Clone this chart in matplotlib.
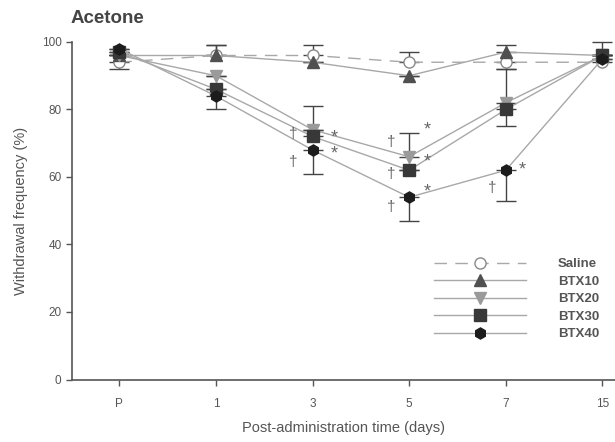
import matplotlib
matplotlib.use("Agg")
from matplotlib import pyplot as plt
import numpy as np

plt.rcParams['font.family'] = ['Liberation Sans', 'DejaVu Sans']

# data
days = ["P", "1", "3", "5", "7", "15"]
saline = [94, 96, 96, 94, 94, 94]
btx10 = [96, 96, 94, 90, 97, 96]
btx20 = [96, 90, 74, 66, 82, 96]
btx30 = [97, 86, 72, 62, 80, 96]
btx40 = [98, 84, 68, 54, 62, 95]

# one-sided error bars (lower, upper) as drawn
saline_err = [[2, 0, 0, 0, 2, 0], [0, 3, 3, 3, 0, 6]]
btx10_err = [[0, 0, 0, 0, 0, 0], [0, 3, 0, 0, 2, 0]]
btx20_err = [[0, 0, 0, 0, 0, 0], [0, 0, 0, 7, 10, 0]]
btx30_err = [[0, 0, 0, 0, 5, 0], [0, 0, 9, 0, 0, 0]]
btx40_err = [[0, 4, 7, 7, 9, 0], [0, 0, 0, 0, 0, 0]]

# significance marks: (x index offset, y value, symbol)
marks = [
    (2 - 0.2, 72.7, "†"), (2 + 0.22, 71.5, "*"),
    (2 - 0.2, 64.4, "†"), (2 + 0.22, 66.8, "*"),
    (3 - 0.19, 70.4, "†"), (3 + 0.19, 74.0, "*"),
    (3 - 0.19, 61.0, "†"), (3 + 0.19, 64.5, "*"),
    (3 - 0.19, 51.0, "†"), (3 + 0.19, 55.5, "*"),
    (4 - 0.14, 56.7, "†"), (4 + 0.17, 62.0, "*"),
]

x = np.arange(len(days))
txt = "#555555"
line_c = "#a8a8a8"

fig = plt.figure(figsize=(6.15, 4.42), dpi=100)
ax = fig.add_axes([0.117, 0.1414, 0.883, 0.7636])

series = [
    ("Saline", saline, saline_err, "o", "white", "#888888", (0, (9, 6))),
    ("BTX10", btx10, btx10_err, "^", "#505050", "#505050", "-"),
    ("BTX20", btx20, btx20_err, "v", "#9a9a9a", "#9a9a9a", "-"),
    ("BTX30", btx30, btx30_err, "s", "#383838", "#383838", "-"),
    ("BTX40", btx40, btx40_err, "h", "#1c1c1c", "#1c1c1c", "-"),
]

for name, vals, err, mk, fc, ec, ls in series:
    ax.errorbar(x, vals, yerr=err, fmt="none", ecolor="#444444", elinewidth=1.0,
                capsize=7.5, capthick=1.0, clip_on=False, zorder=2)
    ax.plot(x, vals, color=line_c, lw=1.0, ls=ls, marker=mk, ms=8,
            mfc=fc, mec=ec, mew=1.0, label=name, clip_on=False, zorder=3)

for mx, my, s in marks:
    ax.text(mx, my, s, ha="center", va="center", color="#666666",
            fontsize=13 if s == "*" else 11)

ax.set_xlim(-0.49, 5.13)
ax.set_ylim(0, 100)
ax.set_xticks(x)
ax.set_xticklabels(days)
ax.set_yticks([0, 20, 40, 60, 80, 100])
for side in ["top", "right"]:
    ax.spines[side].set_visible(False)
for side in ["left", "bottom"]:
    ax.spines[side].set_color("#555555")
    ax.spines[side].set_linewidth(1.2)
ax.tick_params(axis="both", direction="out", length=4, width=1, colors="#555555",
               labelcolor=txt, labelsize=8.5)
ax.tick_params(axis="x", pad=9)

ax.set_xlabel("Post-administration time (days)", fontsize=10.5, color=txt, labelpad=8)
ax.set_ylabel("Withdrawal frequency (%)", fontsize=10.5, color=txt, labelpad=10)
fig.text(0.114, 0.958, "Acetone", fontsize=13.5, fontweight="bold", color="#444444",
         ha="left", va="center")

leg = ax.legend(loc="upper left", bbox_to_anchor=(0.645, 0.395), frameon=False,
                handlelength=7.0, fontsize=9.5, labelspacing=0.4, handletextpad=2.4,
                labelcolor=txt)
for t in leg.get_texts():
    t.set_fontweight("bold")

fig.savefig("out.png", dpi=100)
